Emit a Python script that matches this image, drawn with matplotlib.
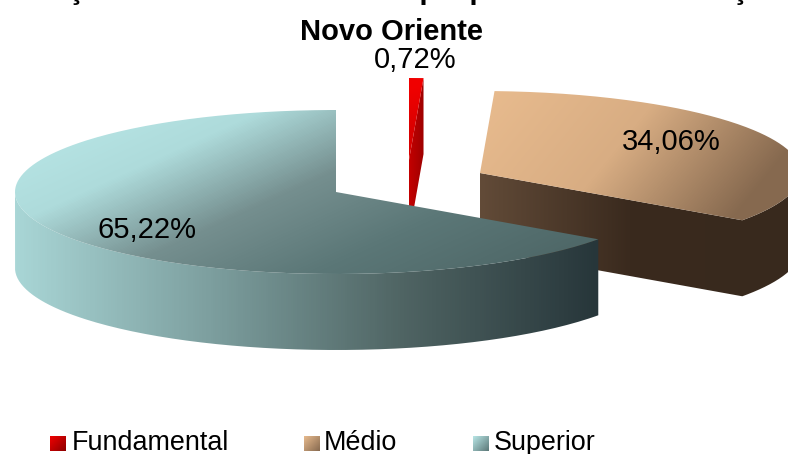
import numpy as np
import matplotlib
matplotlib.use('Agg')
import matplotlib.pyplot as plt
from matplotlib.colors import LinearSegmentedColormap
from matplotlib.patches import PathPatch
from matplotlib.path import Path

plt.rcParams['font.family'] = ['Liberation Sans', 'DejaVu Sans']

categories = ['Fundamental', 'Médio', 'Superior']
shares = [0.72, 34.06, 65.22]
share_labels = ['0,72%', '34,06%', '65,22%']
title_lines = ['Formações docentes do curso que por áreas de formação', 'Novo Oriente']

W, H = 788, 454
RX, RY, DEPTH = 321, 82, 76
# exploded apex of every slice, in pixels
apexes = [(409, 160), (480, 173), (336, 192)]
label_pos = [(415, 60), (671, 142), (147, 230)]

top_stops = [
    ['#f00000', '#d80000'],
    ['#e8bb8e', '#d8ad83', '#86694f'],
    ['#b9e7e7', '#aedbdb', '#758f8f', '#5b7777', '#4f6868'],
]
top_dirs = [((409, 90), (423, 130)), ((490, 90), (700, 260)), ((60, 110), (200, 418))]
side_stops = [
    ['#c40000', '#a00000'],
    ['#624b38', '#3a2a1e', '#38291d'],
    ['#a9d6d6', '#7d9f9f', '#4f6463', '#27363a'],
]
side_dirs = [((409, 0), (423, 0)), ((480, 0), (780, 0)), ((15, 0), (598, 0))]
legend_x = [50, 304, 473]
legend_text_x = [72, 324, 494]
legend_stops = [['#f00000', '#8c0000'], ['#e8bb8e', '#86694f'], ['#b9e7e7', '#5b7777']]

grid_x, grid_y = np.meshgrid(np.arange(W) + 0.5, np.arange(H) + 0.5)


def gradient_fill(ax, verts, stops, p0, p1):
    # canvas sized gradient clipped to the polygon
    cmap = LinearSegmentedColormap.from_list('g', stops)
    dx, dy = p1[0] - p0[0], p1[1] - p0[1]
    t = ((grid_x - p0[0]) * dx + (grid_y - p0[1]) * dy) / (dx * dx + dy * dy)
    im = ax.imshow(np.clip(t, 0, 1), cmap=cmap, vmin=0, vmax=1, extent=(0, W, H, 0),
                   aspect='auto', interpolation='bilinear')
    patch = PathPatch(Path(verts), transform=ax.transData, fc='none', ec='none')
    ax.add_patch(patch)
    im.set_clip_path(patch)


def arc(apex, a0, a1):
    # angles in degrees, counterclockwise, y axis of the picture points down
    th = np.radians(np.linspace(a0, a1, 240))
    return np.column_stack([apex[0] + RX * np.cos(th), apex[1] - RY * np.sin(th)])


fig = plt.figure(figsize=(W / 100, H / 100), dpi=100)
ax = fig.add_axes([0, 0, 1, 1])

# slices run clockwise from 12 o'clock
ends = 90 - np.cumsum(shares) * 3.6
starts = np.r_[90, ends[:-1]]

for i in [1, 0, 2]:
    apex = apexes[i]
    rim = arc(apex, starts[i], ends[i])
    low = rim + [0, DEPTH]
    front = rim[:, 1] >= apex[1]
    if i == 2:
        # only the outer wall faces the viewer
        side = np.vstack([rim[front], low[front][::-1]])
    elif i == 1:
        # cut face along the last radius and the outer wall as one shape
        side = np.vstack([[apex], rim[front][::-1], low[front], [[apex[0], apex[1] + DEPTH]]])
    else:
        side = np.array([apex, rim[-1], low[-1], [apex[0], apex[1] + DEPTH]])
    gradient_fill(ax, side, side_stops[i], *side_dirs[i])
    top = np.vstack([[apex], rim])
    gradient_fill(ax, top, top_stops[i], *top_dirs[i])

for i, name in enumerate(categories):
    x = legend_x[i]
    square = [(x, 436), (x + 16, 436), (x + 16, 451), (x, 451)]
    gradient_fill(ax, square, legend_stops[i], (x, 436), (x + 16, 451))
    ax.text(legend_text_x[i], 450.5, name, fontsize=19.4, color='black', va='baseline', ha='left')
    ax.text(label_pos[i][0], label_pos[i][1], share_labels[i], fontsize=21, color='black',
            va='center', ha='center')

ax.text(381, -1, title_lines[0], fontsize=21, fontweight='bold', ha='center', va='baseline', clip_on=True)
ax.text(392, 32, title_lines[1], fontsize=21, fontweight='bold', ha='center', va='center')

ax.set_xlim(0, W)
ax.set_ylim(H, 0)
ax.axis('off')

fig.savefig('out.png', dpi=100)
plt.close(fig)
